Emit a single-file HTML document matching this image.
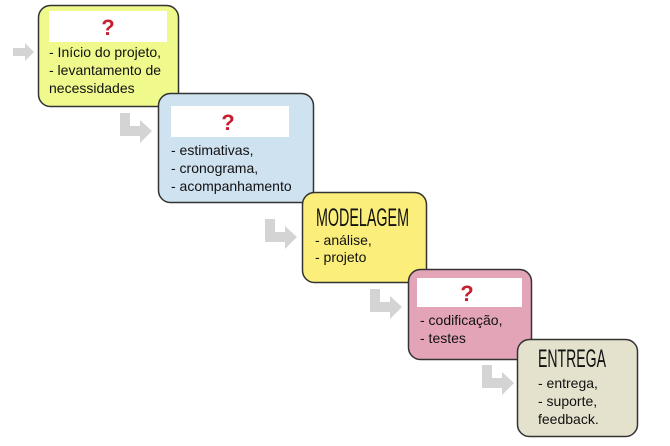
<!DOCTYPE html>
<html><head><meta charset="utf-8"><style>
html,body{margin:0;padding:0;background:#fff;}
svg{display:block}
text{font-family:"Liberation Sans",sans-serif;fill:#111;}
.t{font-size:14px;}
.q{font-size:22px;font-weight:bold;fill:#c4202f;}
</style></head><body>
<svg width="670" height="446" viewBox="0 0 670 446" xmlns="http://www.w3.org/2000/svg">
<g fill="#d4d4d4">
<path d="M13 48H25V43L34 52L25 61V56H13Z"/>
<path d="M120 113H130V126H140V120L152 131L140 143V136H120Z"/>
<path d="M265 219H275V232H285V226L297 237L285 249V242H265Z"/>
<path d="M370 289H380V302H390V296L402 307L390 319V312H370Z"/>
<path d="M482 365H492V378H502V372L514 383L502 395V388H482Z"/>
</g>
<rect x="38.5" y="5.5" width="140" height="101" rx="12" fill="#eff98c" stroke="#333" stroke-width="1.5"/>
<rect x="49" y="11" width="118" height="31" fill="#fff"/>
<text class="q" x="108" y="35" text-anchor="middle">?</text>
<text class="t" x="49" y="57">- Início do projeto,</text>
<text class="t" x="49" y="75">- levantamento de</text>
<text class="t" x="49" y="93">necessidades</text>

<rect x="158.5" y="93.5" width="155" height="109" rx="12" fill="#cfe2f0" stroke="#333" stroke-width="1.5"/>
<rect x="171" y="106" width="118" height="31" fill="#fff"/>
<text class="q" x="228" y="130" text-anchor="middle">?</text>
<text class="t" x="171" y="155">- estimativas,</text>
<text class="t" x="171" y="173">- cronograma,</text>
<text class="t" x="171" y="191">- acompanhamento</text>

<rect x="302.5" y="192.5" width="124" height="90" rx="12" fill="#fbee7a" stroke="#333" stroke-width="1.5"/>
<text x="316" y="226" font-size="25" textLength="93" lengthAdjust="spacingAndGlyphs">MODELAGEM</text>
<text class="t" x="315" y="245">- análise,</text>
<text class="t" x="315" y="262">- projeto</text>

<rect x="408.5" y="269.5" width="123" height="90" rx="12" fill="#e4a4b8" stroke="#333" stroke-width="1.5"/>
<rect x="417" y="278" width="105" height="29" fill="#fff"/>
<text class="q" x="467" y="301" text-anchor="middle">?</text>
<text class="t" x="420" y="325">- codificação,</text>
<text class="t" x="420" y="343">- testes</text>

<rect x="517.5" y="339.5" width="120" height="97" rx="12" fill="#e4e1cd" stroke="#333" stroke-width="1.5"/>
<text x="538" y="367" font-size="25" textLength="68" lengthAdjust="spacingAndGlyphs">ENTREGA</text>
<text class="t" x="538" y="388">- entrega,</text>
<text class="t" x="538" y="406">- suporte,</text>
<text class="t" x="538" y="424">feedback.</text>
</svg>
</body></html>
